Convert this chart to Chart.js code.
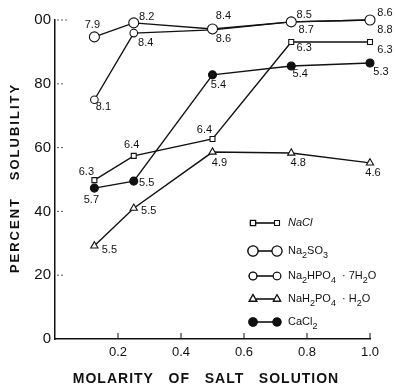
<!DOCTYPE html>
<html>
<head>
<meta charset="utf-8">
<script src="https://cdn.jsdelivr.net/npm/chart.js@4/dist/chart.umd.min.js"></script>
<style>
  html, body { margin: 0; padding: 0; background: #fff; }
  #wrap { width: 395px; height: 392px; }
</style>
</head>
<body>
<div id="wrap"><canvas id="solChart" width="395" height="392"></canvas></div>
<script>
// molarity of the salt solution (x)
const molarity = [0.125, 0.25, 0.5, 0.75, 1.0];

// percent solubility per salt
const naClSol    = [49.8, 57.4, 62.7, 93.1, 93.1];
const na2so3Sol  = [94.7, 99.1, 97.2, 99.4, 100];
const na2hpo4Sol = [75.0, 95.9, 96.9, 99.4, 100];
const nah2po4Sol = [29.2, 41.0, 58.6, 58.3, 55.2];
const caCl2Sol   = [47.3, 49.5, 82.8, 85.6, 86.5];

// pH written next to each point
const naClPH    = ['6.3', '6.4', '6.4', '6.3', '6.3'];
const na2so3PH  = ['7.9', '8.2', '8.4', '8.5', '8.6'];
const na2hpo4PH = ['8.1', '8.4', '8.6', '8.7', '8.8'];
const nah2po4PH = ['5.5', '5.5', '4.9', '4.8', '4.6'];
const caCl2PH   = ['5.7', '5.5', '5.4', '5.4', '5.3'];

const yTicks = [0, 20, 40, 60, 80, 100];
const yTickText = ['0', '20', '40', '60', '80', '00'];
const xTicks = [0.2, 0.4, 0.6, 0.8, 1.0];
const xTickText = ['0.2', '0.4', '0.6', '0.8', '1.0'];

const pts = (ys) => molarity.map((x, i) => ({ x: x, y: ys[i] }));

// label offsets (px) from each point
const offNaCl    = [[-8, -8], [-2, -11], [-8, -9], [13, 6], [15, 8]];
const offNa2so3  = [[-2, -12], [13, -6], [11, -13], [13, -7], [15, -7]];
const offNa2hpo4 = [[9, 7], [12, 10], [11, 9], [15, 8], [15, 10]];
const offNah2po4 = [[15, 4], [15, 3], [7, 11], [7, 10], [3, 10]];
const offCaCl2   = [[-3, 12], [13, 2], [6, 10], [9, 8], [11, 9]];

function series(label, ys, ph, off, style, radius, fill) {
    return {
        label: label,
        data: pts(ys),
        phLabels: ph,
        phOffsets: off,
        clip: false,
        borderColor: '#111',
        borderWidth: 1.4,
        pointStyle: style,
        pointRadius: radius,
        pointBackgroundColor: fill,
        pointBorderColor: '#111',
        pointBorderWidth: 1.1,
        showLine: true,
        tension: 0
    };
}

// pH text beside the points
const phLabelPlugin = {
    id: 'phLabels',
    afterDatasetsDraw(chart) {
        const ctx = chart.ctx;
        ctx.save();
        ctx.font = '11px "Liberation Sans", Arial, sans-serif';
        ctx.fillStyle = '#111';
        ctx.textAlign = 'center';
        ctx.textBaseline = 'middle';
        chart.data.datasets.forEach((ds, di) => {
            const meta = chart.getDatasetMeta(di);
            meta.data.forEach((el, i) => {
                const o = ds.phOffsets[i];
                ctx.fillText(ds.phLabels[i], el.x + o[0], el.y + o[1]);
            });
        });
        ctx.restore();
    }
};

// small dotted stubs on the y axis, short ticks on the x axis, axis titles
const axisDecor = {
    id: 'axisDecor',
    afterDraw(chart) {
        const ctx = chart.ctx;
        const xs = chart.scales.x, ys = chart.scales.y;
        const area = chart.chartArea;
        ctx.save();
        ctx.strokeStyle = '#555';
        ctx.lineWidth = 1;
        ctx.setLineDash([2, 2]);
        yTicks.slice(1).forEach(v => {
            const py = ys.getPixelForValue(v);
            ctx.beginPath();
            ctx.moveTo(area.left + 2, py);
            ctx.lineTo(area.left + (v === 100 ? 14 : 8), py);
            ctx.stroke();
        });
        ctx.setLineDash([]);
        ctx.strokeStyle = '#111';
        xTicks.forEach(v => {
            const px = xs.getPixelForValue(v);
            ctx.beginPath();
            ctx.moveTo(px, area.bottom);
            ctx.lineTo(px, area.bottom - 6);
            ctx.stroke();
        });

        ctx.fillStyle = '#111';
        ctx.textAlign = 'center';
        ctx.textBaseline = 'middle';
        ctx.font = 'bold 14px "Liberation Sans", Arial, sans-serif';
        ctx.letterSpacing = '1px';
        ctx.fillText('MOLARITY   OF   SALT   SOLUTION', 206, 379);
        ctx.font = 'bold 13px "Liberation Sans", Arial, sans-serif';
        ctx.letterSpacing = '2px';
        ctx.translate(15, 178);
        ctx.rotate(-Math.PI / 2);
        ctx.fillText('PERCENT   SOLUBILITY', 0, 0);
        ctx.restore();
    }
};

// legend with subscripted formulas
const legendRows = [
    { parts: [['NaCl', 0]], style: 'rect', r: 3.5, fill: '#fff', italic: true },
    { parts: [['Na', 0], ['2', 1], ['SO', 0], ['3', 1]], style: 'circle', r: 5, fill: '#fff' },
    { parts: [['Na', 0], ['2', 1], ['HPO', 0], ['4', 1], ['  \u00b7 7H', 0], ['2', 1], ['O', 0]], style: 'circle', r: 3.8, fill: '#fff' },
    { parts: [['NaH', 0], ['2', 1], ['PO', 0], ['4', 1], ['  \u00b7 H', 0], ['2', 1], ['O', 0]], style: 'triangle', r: 4.2, fill: '#fff' },
    { parts: [['CaCl', 0], ['2', 1]], style: 'circle', r: 4, fill: '#111' }
];
const legendRowY = [223, 251, 276, 299, 322];

const formulaLegend = {
    id: 'formulaLegend',
    afterDraw(chart) {
        const ctx = chart.ctx;
        ctx.save();
        legendRows.forEach((row, i) => {
            const y = legendRowY[i];
            ctx.strokeStyle = '#111';
            ctx.lineWidth = 1.6;
            ctx.beginPath();
            ctx.moveTo(253, y);
            ctx.lineTo(277, y);
            ctx.stroke();
            [253, 277].forEach(x => {
                Chart.helpers.drawPoint(ctx, {
                    pointStyle: row.style, radius: row.r, borderWidth: 1.1
                }, x, y);
                ctx.fillStyle = row.fill;
                ctx.strokeStyle = '#111';
                ctx.lineWidth = 1.1;
                ctx.fill();
                ctx.stroke();
            });
            let tx = 288;
            ctx.fillStyle = '#111';
            ctx.textBaseline = 'middle';
            ctx.textAlign = 'left';
            row.parts.forEach(p => {
                const sub = p[1] === 1;
                ctx.font = (row.italic ? 'italic ' : '') + (sub ? '9px' : '11px') + ' "Liberation Sans", Arial, sans-serif';
                ctx.fillText(p[0], tx, y + (sub ? 5 : 0));
                tx += ctx.measureText(p[0]).width;
            });
        });
        ctx.restore();
    }
};

const ctx = document.getElementById('solChart').getContext('2d');
new Chart(ctx, {
    type: 'scatter',
    data: {
        datasets: [
            series('NaCl', naClSol, naClPH, offNaCl, 'rect', 3.5, '#fff'),
            series('Na2SO3', na2so3Sol, na2so3PH, offNa2so3, 'circle', 5, '#fff'),
            series('Na2HPO4·7H2O', na2hpo4Sol, na2hpo4PH, offNa2hpo4, 'circle', 3.8, '#fff'),
            series('NaH2PO4·H2O', nah2po4Sol, nah2po4PH, offNah2po4, 'triangle', 4.2, '#fff'),
            series('CaCl2', caCl2Sol, caCl2PH, offCaCl2, 'circle', 4, '#111')
        ]
    },
    options: {
        responsive: false,
        animation: false,
        layout: { padding: { left: 0, top: 20, right: 25, bottom: 0 } },
        plugins: {
            legend: { display: false },
            tooltip: { enabled: false }
        },
        scales: {
            x: {
                type: 'linear',
                min: 0,
                max: 1.0,
                afterFit: (s) => { s.height = 53; },
                afterBuildTicks: (s) => { s.ticks = xTicks.map(v => ({ value: v })); },
                ticks: {
                    color: '#111',
                    padding: 6,
                    font: { family: '"Liberation Sans", Arial, sans-serif', size: 13 },
                    callback: (v) => xTickText[xTicks.indexOf(v)]
                },
                grid: { display: false, drawTicks: false },
                border: { display: true, color: '#111', width: 1.5 }
            },
            y: {
                min: 0,
                max: 100,
                afterFit: (s) => { s.width = 55; },
                afterBuildTicks: (s) => { s.ticks = yTicks.map(v => ({ value: v })); },
                ticks: {
                    color: '#111',
                    padding: 4,
                    font: { family: '"Liberation Sans", Arial, sans-serif', size: 15 },
                    callback: (v) => yTickText[yTicks.indexOf(v)]
                },
                grid: { display: false, drawTicks: false },
                border: { display: true, color: '#111', width: 1.5 }
            }
        }
    },
    plugins: [phLabelPlugin, axisDecor, formulaLegend]
});
</script>
</body>
</html>
